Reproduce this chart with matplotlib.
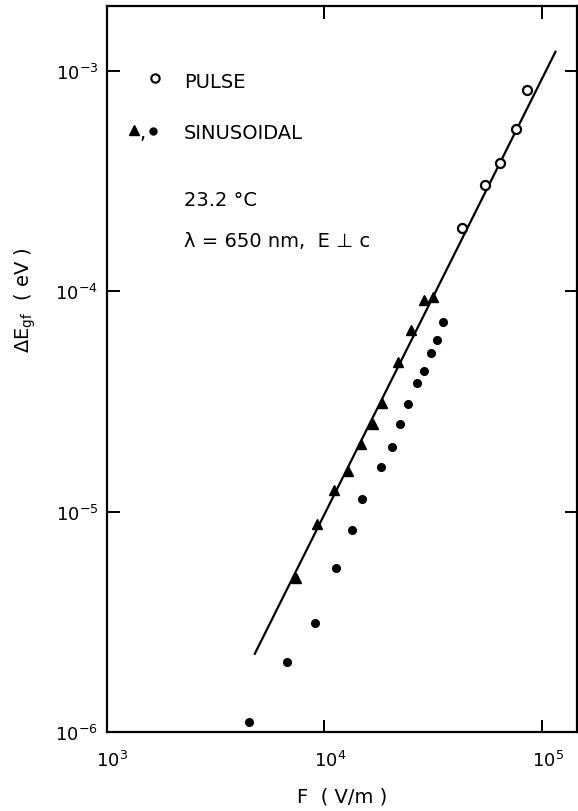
import matplotlib
matplotlib.use("Agg")
import matplotlib.pyplot as plt
import matplotlib.transforms as mtransforms
from matplotlib.ticker import FixedLocator, FixedFormatter, NullLocator

plt.rcParams['font.family'] = ['DejaVu Sans']
plt.rcParams['mathtext.default'] = 'regular'

# Pulse measurements (open circles)
pulse_F = [4.28e4, 5.46e4, 6.40e4, 7.57e4, 8.56e4]
pulse_dE = [1.95e-4, 3.03e-4, 3.82e-4, 5.45e-4, 8.22e-4]

# Sinusoidal measurements, upper set (triangles)
sin_tri_F = [7.44e3, 9.26e3, 1.112e4, 1.279e4, 1.474e4, 1.666e4, 1.84e4,
             2.178e4, 2.506e4, 2.876e4, 3.172e4]
sin_tri_dE = [5.01e-6, 8.82e-6, 1.25e-5, 1.53e-5, 2.02e-5, 2.51e-5, 3.10e-5,
              4.77e-5, 6.67e-5, 9.12e-5, 9.46e-5]

# Sinusoidal measurements, lower set (filled dots)
sin_dot_F = [4.50e3, 6.745e3, 9.03e3, 1.131e4, 1.34e4, 1.494e4, 1.826e4,
             2.045e4, 2.239e4, 2.428e4, 2.662e4, 2.876e4, 3.086e4, 3.308e4,
             3.516e4]
sin_dot_dE = [1.11e-6, 2.07e-6, 3.14e-6, 5.57e-6, 8.28e-6, 1.146e-5, 1.59e-5,
              1.96e-5, 2.5e-5, 3.09e-5, 3.82e-5, 4.33e-5, 5.23e-5, 6.03e-5,
              7.28e-5]

# Fitted straight line (end points)
fit_F = [4.77e3, 1.159e5]
fit_dE = [2.24e-6, 1.237e-3]

x_ticks = [1e3, 1e4, 1e5]
x_tick_labels = ['$10^{3}$', '$10^{4}$', '$10^{5}$']
y_ticks = [1e-6, 1e-5, 1e-4, 1e-3]
y_tick_labels = ['$10^{-6}$', '$10^{-5}$', '$10^{-4}$', '$10^{-3}$']

W, H = 578, 812
fig = plt.figure(figsize=(W / 100, H / 100), dpi=100)
L, R, T, B = 106.5, 577.0, 7.0, 733.0
ax = fig.add_axes([L / W, (H - B) / H, (R - L) / W, (B - T) / H])

ax.set_xscale('log')
ax.set_yscale('log')
ax.set_xlim(1e3, 1.448e5)
ax.set_ylim(1e-6, 1.975e-3)

ax.plot(fit_F, fit_dE, color='black', lw=1.6, solid_capstyle='butt')
ax.plot(pulse_F, pulse_dE, 'o', ms=6.5, mfc='white', mec='black', mew=1.6)
ax.plot(sin_tri_F, sin_tri_dE, '^', ms=7.5, color='black')
ax.plot(sin_dot_F, sin_dot_dE, 'o', ms=5.5, color='black')

for s in ax.spines.values():
    s.set_linewidth(1.6)

ax.xaxis.set_major_locator(FixedLocator(x_ticks))
ax.xaxis.set_major_formatter(FixedFormatter(x_tick_labels))
ax.yaxis.set_major_locator(FixedLocator(y_ticks))
ax.yaxis.set_major_formatter(FixedFormatter(y_tick_labels))
ax.xaxis.set_minor_locator(NullLocator())
ax.yaxis.set_minor_locator(NullLocator())
ax.tick_params(which='major', direction='in', length=9, width=1.4,
               top=True, right=True, labelsize=13)
ax.tick_params(axis='x', pad=13)
ax.tick_params(axis='y', pad=6)

# put the mantissa of each x label under its tick
shift = mtransforms.ScaledTranslation(6 / 100, 0, fig.dpi_scale_trans)
for lab in ax.get_xticklabels():
    lab.set_transform(lab.get_transform() + shift)

ax.set_xlabel('F  ( V/m )', fontsize=14, labelpad=12)
fig.text(25 / W, 1 - 300 / H, r'$\Delta E_{gf}$  ( eV )', rotation=90,
         ha='center', va='center', fontsize=14)

# key and conditions
def fx(px):
    return (px - L) / (R - L)

def fy(py):
    return (B - py) / (B - T)

ax.plot([fx(155)], [fy(79)], 'o', ms=6, mfc='white', mec='black', mew=1.5,
        transform=ax.transAxes, clip_on=False)
ax.text(fx(184), fy(82), 'PULSE', transform=ax.transAxes, fontsize=14,
        va='center', ha='left')
ax.plot([fx(134)], [fy(131)], '^', ms=6.5, color='black',
        transform=ax.transAxes)
ax.text(fx(140), fy(133), ',', transform=ax.transAxes, fontsize=14,
        va='center', ha='left')
ax.plot([fx(153)], [fy(132)], 'o', ms=5, color='black',
        transform=ax.transAxes)
ax.text(fx(184), fy(133), 'SINUSOIDAL', transform=ax.transAxes, fontsize=14,
        va='center', ha='left')
ax.text(fx(184), fy(200), '23.2 °C', transform=ax.transAxes, fontsize=14,
        va='center', ha='left')
ax.text(fx(184), fy(241), 'λ = 650 nm,  E ⊥ c', transform=ax.transAxes,
        fontsize=14, va='center', ha='left')

fig.savefig('out.png', dpi=100)
